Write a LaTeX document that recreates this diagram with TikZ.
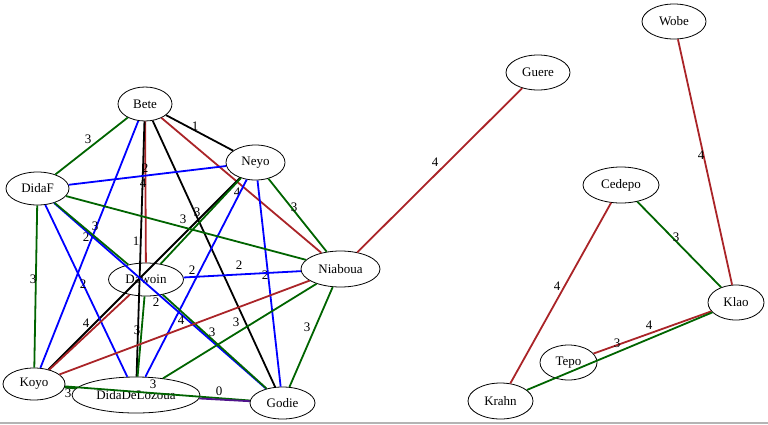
\documentclass[tikz,border=0pt]{standalone}
\usepackage{fontspec}
\setmainfont{Liberation Serif}
\usetikzlibrary{shapes.geometric}
\definecolor{egreen}{RGB}{0,100,0}
\definecolor{ered}{RGB}{170,36,40}
\definecolor{eblue}{RGB}{0,0,255}
\definecolor{epurple}{RGB}{80,20,140}
\definecolor{barg}{RGB}{180,180,180}
\begin{document}
\begin{tikzpicture}[x=1pt,y=-1pt,
  nd/.style={draw=black, line width=0.8pt, ellipse, inner sep=0pt, font=\fontsize{13}{15}\selectfont},
  lbl/.style={inner sep=0pt, font=\fontsize{13}{15}\selectfont},
  edgebase/.style={line width=1.8pt},
  ek/.style={edgebase, draw=black},
  eg/.style={edgebase, draw=egreen},
  er/.style={edgebase, draw=ered},
  eb/.style={edgebase, draw=eblue},
  ep/.style={edgebase, draw=epurple}
]
\useasboundingbox (0,0) rectangle (768,424);
\fill[barg] (0,422) rectangle (768,424);
% nodes
\node[nd, minimum width=54pt, minimum height=34pt] (Bete) at (145,104) {Bete};
\node[nd, minimum width=59pt, minimum height=35pt] (Neyo) at (255.5,162.5) {Neyo};
\node[nd, minimum width=63pt, minimum height=33pt] (DidaF) at (37.5,188.5) {DidaF};
\node[nd, minimum width=79pt, minimum height=36pt] (Niaboua) at (340.5,269) {Niaboua};
\node[nd, minimum width=75pt, minimum height=33pt] (Dawoin) at (146,279.5) {Dawoin};
\node[nd, minimum width=62pt, minimum height=32pt] (Koyo) at (34,384) {Koyo};
\node[nd, minimum width=128pt, minimum height=36pt] (DidaDeLozoua) at (136,395) {DidaDeLozoua};
\node[nd, minimum width=65pt, minimum height=32pt] (Godie) at (282.5,403) {Godie};
\node[nd, minimum width=64pt, minimum height=35pt] (Guere) at (538,72.5) {Guere};
\node[nd, minimum width=64pt, minimum height=35pt] (Wobe) at (674,21.5) {Wobe};
\node[nd, minimum width=76pt, minimum height=36pt] (Cedepo) at (621,185) {Cedepo};
\node[nd, minimum width=56pt, minimum height=35pt] (Klao) at (736,302.5) {Klao};
\node[nd, minimum width=57pt, minimum height=35pt] (Tepo) at (568.5,362.5) {Tepo};
\node[nd, minimum width=65pt, minimum height=36pt] (Krahn) at (500.5,401) {Krahn};
% edges
\draw[ek] (Bete) -- (Neyo) node[lbl] at (195,126) {1};
\draw[eg] (Bete) -- (DidaF) node[lbl] at (88,139) {3};
\draw[eb] (Bete) -- (Koyo) node[lbl] at (86,237) {2};
\draw[er] (Bete) -- (Dawoin) node[lbl] at (143,183) {4};
\draw[ek] (Bete) -- (DidaDeLozoua) node[lbl] at (136,241) {1};
\draw[ek] (Bete) -- (Godie);
\draw[er] (Bete) -- (Niaboua) node[lbl] at (237,192) {4};
\draw[eb] (DidaF) -- (Neyo) node[lbl] at (145,168) {2};
\draw[eg] (Neyo) -- (Niaboua) node[lbl] at (294,207) {3};
\draw[eb] (Neyo) -- (Godie) node[lbl] at (265,275) {2};
\draw[eb] (Neyo) -- (DidaDeLozoua) node[lbl] at (192,270) {2};
\draw[ek] (Neyo) -- (Koyo);
\draw[eg] (Neyo) -- (Dawoin) node[lbl] at (197,212) {3};
\draw[eg] (DidaF) -- (Niaboua) node[lbl] at (183,219) {3};
\draw[eg] (DidaF) -- (Koyo) node[lbl] at (33,279) {3};
\draw[eb] (DidaF) -- (DidaDeLozoua) node[lbl] at (83,284) {2};
\draw[eb] (DidaF) -- (Godie) node[lbl] at (156,302) {2};
\draw[eg] (DidaF) -- (Dawoin) node[lbl] at (95,226) {3};
\draw[eb] (Dawoin) -- (Niaboua) node[lbl] at (239,265) {2};
\draw[er] (Dawoin) -- (Koyo) node[lbl] at (86,323) {4};
\draw[eg] (Dawoin) -- (DidaDeLozoua) node[lbl] at (137,330) {3};
\draw[eg] (Dawoin) -- (Godie) node[lbl] at (212,332) {3};
\draw[er] (Niaboua) -- (Koyo) node[lbl] at (181,320) {4};
\draw[eg] (Niaboua) -- (DidaDeLozoua) node[lbl] at (236,322) {3};
\draw[eg] (Niaboua) -- (Godie) node[lbl] at (307,327) {3};
\draw[eg] (Koyo) -- (Godie) node[lbl] at (153,384) {3};
\draw[eg] (Koyo) -- (DidaDeLozoua) node[lbl] at (68,393) {3};
\draw[ep] (DidaDeLozoua) -- (Godie) node[lbl] at (219,391) {0};
\draw[er] (Guere) -- (Niaboua) node[lbl] at (435,162) {4};
\draw[er] (Wobe) -- (Klao) node[lbl] at (701,155) {4};
\draw[eg] (Cedepo) -- (Klao) node[lbl] at (676,237) {3};
\draw[er] (Cedepo) -- (Krahn) node[lbl] at (557,286) {4};
\draw[er] (Tepo) -- (Klao) node[lbl] at (649,325) {4};
\draw[eg] (Krahn) -- (Klao) node[lbl] at (617,343) {3};
\end{tikzpicture}
\end{document}
